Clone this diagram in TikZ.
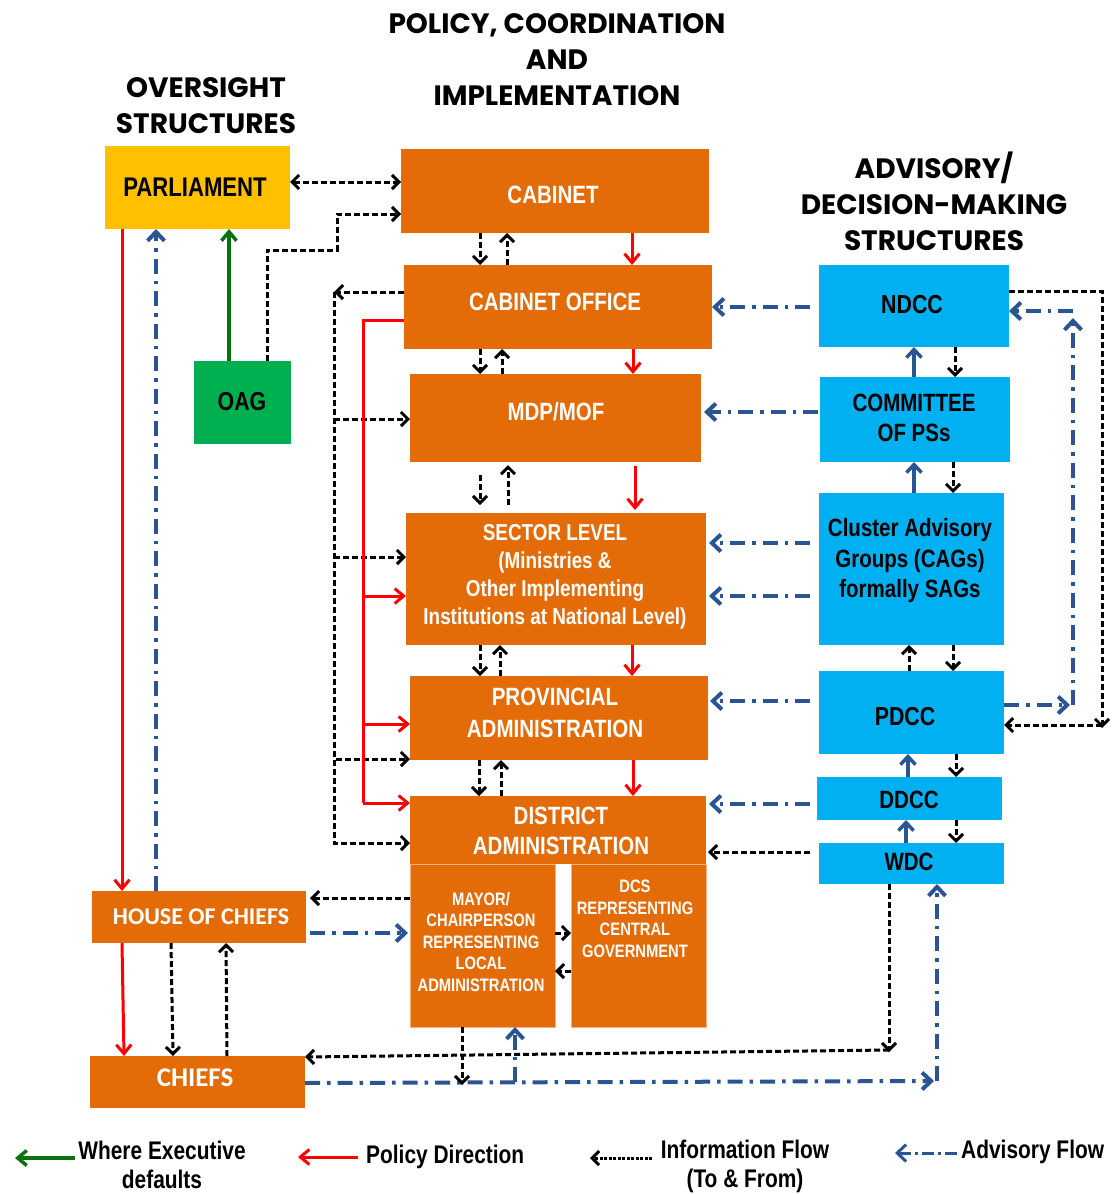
\documentclass[tikz,border=0pt]{standalone}
\usepackage{fontspec}
\newfontfamily\nar{Liberation Sans}[FakeStretch=0.82]
\newfontfamily\calib{Carlito}
\newfontfamily\hdr{Poppins}
\usetikzlibrary{arrows.meta}
\definecolor{orng}{HTML}{E36C09}
\definecolor{skyb}{HTML}{00B0F0}
\definecolor{yel}{HTML}{FFC000}
\definecolor{grn}{HTML}{00B050}
\definecolor{advb}{HTML}{2B5592}
\definecolor{exg}{HTML}{0A7010}
\definecolor{peach}{HTML}{F4B183}
\newcommand\fsz[2]{\fontsize{#1}{#2}\selectfont}
\begin{document}
\begin{tikzpicture}[x=1pt,y=-1pt,
  box/.style={inner sep=0pt,outer sep=0pt,draw=none},
  obox/.style={box,fill=orng},
  bbox/.style={box,fill=skyb},
  wt/.style={text=white,align=center,inner sep=0pt},
  kt/.style={text=black,align=center,inner sep=0pt},
  info/.style={black,line width=3pt,dash pattern=on 6pt off 3pt,>={Straight Barb[length=7pt,width=14pt]}},
  pol/.style={red,line width=3pt,>={Straight Barb[length=9pt,width=15pt]}},
  adv/.style={advb,line width=4pt,dash pattern=on 15pt off 7pt on 3.5pt off 7pt,>={Straight Barb[length=9pt,width=17pt]}},
  advs/.style={advb,line width=3.5pt,>={Straight Barb[length=8pt,width=15pt]}},
  exe/.style={exg,line width=3.5pt,>={Straight Barb[length=9pt,width=15pt]}},
  hd/.style={align=center,inner sep=0pt,font=\hdr\bfseries\fsz{28}{36}},
  lg/.style={align=center,inner sep=0pt,font=\nar\bfseries\fsz{25.5}{29}},
]
\fill[white] (0,0) rectangle (1115,1194);
\useasboundingbox (0,0) rectangle (1115,1194);

% headers
\node[hd] (h1) at (557,60) {POLICY, COORDINATION\\AND\\IMPLEMENTATION};
\node[hd] (h2) at (206,106) {OVERSIGHT\\STRUCTURES};
\node[hd] (h3) at (934,201) {ADVISORY/\\DECISION-MAKING\\STRUCTURES};

% boxes
\node[box,fill=yel,minimum width=185pt,minimum height=83pt] (parl) at (197.5,187.5) {};
\node[box,fill=grn,minimum width=97pt,minimum height=83pt] (oag) at (242.5,402.5) {};
\node[obox,minimum width=308pt,minimum height=84pt] (cab) at (555,191) {};
\node[obox,minimum width=308pt,minimum height=84pt] (co) at (558,307) {};
\node[obox,minimum width=291pt,minimum height=88pt] (mdp) at (555.5,418) {};
\node[obox,minimum width=300pt,minimum height=132pt] (sec) at (556,579) {};
\node[obox,minimum width=298pt,minimum height=84pt] (prov) at (559,718) {};
\node[obox,minimum width=296pt,minimum height=68pt] (dist) at (558,830) {};
\node[obox,draw=peach,line width=1pt,minimum width=145pt,minimum height=163pt] (mayor) at (482.5,945.5) {};
\node[obox,draw=peach,line width=1pt,minimum width=135pt,minimum height=163pt] (dcs) at (638.5,945.5) {};
\node[obox,minimum width=214pt,minimum height=52pt] (hoc) at (199,917) {};
\node[obox,minimum width=215pt,minimum height=52pt] (chiefs) at (197.5,1082) {};
\node[bbox,minimum width=190pt,minimum height=82pt] (ndcc) at (914,306) {};
\node[bbox,minimum width=190pt,minimum height=85pt] (cops) at (915,419.5) {};
\node[bbox,minimum width=185pt,minimum height=152pt] (cags) at (911.5,569) {};
\node[bbox,minimum width=185pt,minimum height=83pt] (pdcc) at (911.5,712.5) {};
\node[bbox,minimum width=185pt,minimum height=43pt] (ddcc) at (909.5,798.5) {};
\node[bbox,minimum width=185pt,minimum height=41pt] (wdc) at (911.5,863.5) {};

% box texts
\node[kt,font=\nar\bfseries\fsz{27}{32}] (tparl) at (195,187) {PARLIAMENT};
\node[kt,font=\nar\bfseries\fsz{26}{31}] (toag) at (242,402) {OAG};
\node[wt,font=\nar\bfseries\fsz{25}{31}] (tcab) at (553,195) {CABINET};
\node[wt,font=\nar\bfseries\fsz{25}{31}] (tco) at (555,302) {CABINET OFFICE};
\node[wt,font=\nar\bfseries\fsz{25}{31}] (tmdp) at (556,412) {MDP/MOF};
\node[wt,font=\nar\bfseries\fsz{23}{28}] (tsec) at (555,577) {SECTOR LEVEL\\(Ministries \&\\Other Implementing\\Institutions at National Level)};
\node[wt,font=\nar\bfseries\fsz{25}{32}] (tprov) at (555,713) {PROVINCIAL\\ADMINISTRATION};
\node[wt,font=\nar\bfseries\fsz{25}{30}] (tdist) at (561,831) {DISTRICT\\ADMINISTRATION};
\node[wt,font=\nar\bfseries\fsz{18}{21.5}] (tmayor) at (481,942) {MAYOR/\\CHAIRPERSON\\REPRESENTING\\LOCAL\\ADMINISTRATION};
\node[wt,font=\nar\bfseries\fsz{18}{21.5}] (tdcs) at (635,919) {DCS\\REPRESENTING\\CENTRAL\\GOVERNMENT};
\node[wt,font=\calib\bfseries\fsz{24}{28}] (thoc) at (201,917) {HOUSE OF CHIEFS};
\node[wt,font=\calib\bfseries\fsz{27}{30}] (tchiefs) at (195,1078) {CHIEFS};
\node[kt,font=\nar\bfseries\fsz{26}{31}] (tndcc) at (912,305) {NDCC};
\node[kt,font=\nar\bfseries\fsz{25}{30}] (tcops) at (914,418) {COMMITTEE\\OF PSs};
\node[kt,font=\nar\bfseries\fsz{25}{30.5}] (tcags) at (910,561) {Cluster Advisory\\Groups (CAGs)\\formally SAGs};
\node[kt,font=\nar\bfseries\fsz{26}{31}] (tpdcc) at (905,717) {PDCC};
\node[kt,font=\nar\bfseries\fsz{25}{31}] (tddcc) at (909,800) {DDCC};
\node[kt,font=\nar\bfseries\fsz{25}{31}] (twdc) at (909,862) {WDC};

% ---- oversight connectors
\draw[info,<->] (parl.east |- 0,182) -- (cab.west |- 0,182);
\draw[info,->] (oag.north -| 267,0) |- (337,250) |- (cab.west |- 0,214);
\draw[exe,->] (oag.north -| 229,0) -- (parl.south -| 229,0);
\draw[pol,->] (parl.south -| 122,0) -- (hoc.north -| 122,0);
\draw[adv,->] (hoc.north -| 156,0) -- (parl.south -| 156,0);

% ---- central column verticals
\draw[info,->] (cab.south -| 480,0) -- (co.north -| 480,0);
\draw[info,->] (co.north -| 507,0) -- (cab.south -| 507,0);
\draw[pol,->] (cab.south -| 632,0) -- (co.north -| 632,0);
\draw[info,->] (co.south -| 480,0) -- (mdp.north -| 480,0);
\draw[info,->] (mdp.north -| 502,0) -- (co.south -| 502,0);
\draw[pol,->] (co.south -| 633,0) -- (mdp.north -| 633,0);
\draw[info,->,shorten <=13pt,shorten >=8pt] (mdp.south -| 480,0) -- (sec.north -| 480,0);
\draw[info,->,shorten <=8pt,shorten >=3pt] (sec.north -| 508,0) -- (mdp.south -| 508,0);
\draw[pol,->,shorten <=4pt,shorten >=3pt] (mdp.south -| 635,0) -- (sec.north -| 635,0);
\draw[info,->] (sec.south -| 480,0) -- (prov.north -| 480,0);
\draw[info,->] (prov.north -| 500,0) -- (sec.south -| 500,0);
\draw[pol,->] (sec.south -| 632,0) -- (prov.north -| 632,0);
\draw[info,->] (prov.south -| 479,0) -- (dist.north -| 479,0);
\draw[info,->] (dist.north -| 501,0) -- (prov.south -| 501,0);
\draw[pol,->] (prov.south -| 633,0) -- (dist.north -| 633,0);

% ---- left info bus from cabinet office
\coordinate (ib) at (334,292);
\draw[info,->] (co.west |- ib) -- (ib);
\draw[info,->] (ib) |- (dist.west |- 0,843);
\draw[info,->] (334,419) -- (mdp.west |- 0,419);
\draw[info,->] (334,557) -- (sec.west |- 0,557);
\draw[info,->] (336,759) -- (prov.west |- 0,759);

% ---- red policy bus
\coordinate (rb) at (363,320);
\draw[pol] (co.west |- rb) -- (rb) -- (363,803);
\draw[pol,->] (363,596) -- (sec.west |- 0,596);
\draw[pol,->] (363,724) -- (prov.west |- 0,724);
\draw[pol,->] (363,803) -- (dist.west |- 0,803);

% ---- advisory arrows to central column
\draw[adv,->,shorten <=9pt] (ndcc.west |- 0,307) -- (co.east |- 0,307);
\draw[adv,->,shorten <=2pt,shorten >=3pt] (cops.west |- 0,412) -- (mdp.east |- 0,412);
\draw[adv,->,shorten <=9pt,shorten >=3pt] (cags.west |- 0,543) -- (sec.east |- 0,543);
\draw[adv,->,shorten <=9pt,shorten >=3pt] (cags.west |- 0,596) -- (sec.east |- 0,596);
\draw[adv,->,shorten <=9pt,shorten >=2pt] (pdcc.west |- 0,701) -- (prov.east |- 0,701);
\draw[adv,->,shorten <=7pt,shorten >=3pt] (ddcc.west |- 0,804) -- (dist.east |- 0,804);
\draw[info,->,shorten <=9pt,shorten >=2pt] (wdc.west |- 0,852) -- (dist.east |- 0,852);

% ---- right column verticals
\draw[advs,->] (cops.north -| 914,0) -- (ndcc.south -| 914,0);
\draw[info,->] (ndcc.south -| 955,0) -- (cops.north -| 955,0);
\draw[advs,->] (cags.north -| 914,0) -- (cops.south -| 914,0);
\draw[info,->] (cops.south -| 953,0) -- (cags.north -| 953,0);
\draw[info,->] (pdcc.north -| 909,0) -- (cags.south -| 909,0);
\draw[info,->] (cags.south -| 953,0) -- (pdcc.north -| 953,0);
\draw[advs,->] (ddcc.north -| 908,0) -- (pdcc.south -| 908,0);
\draw[info,->] (pdcc.south -| 956,0) -- (ddcc.north -| 956,0);
\draw[advs,->] (wdc.north -| 906,0) -- (ddcc.south -| 906,0);
\draw[info,->] (ddcc.south -| 956,0) -- (wdc.north -| 956,0);

% ---- far right loops
\coordinate (rc) at (1102,725);
\draw[info,->] (ndcc.east |- 0,291) -| ([yshift=-3pt]rc);
\draw[info,->] (rc) -- (pdcc.east |- rc);
\coordinate (ac) at (1073,705);
\draw[adv,->] (pdcc.east |- ac) -- ([xshift=-3pt]ac);
\draw[adv,->] (ac) -- (1073,318);
\draw[adv,->] (1073,311) -- (ndcc.east |- 0,311);

% ---- bottom connections
\coordinate (wc) at (889,1050);
\draw[info,->] (wdc.south -| wc) -- ([yshift=-2pt]wc);
\draw[info,->] (wc) -- (chiefs.east |- 0,1057);
\coordinate (cc) at (937,1081);
\draw[adv,->] (chiefs.east |- 0,1083) -- ([xshift=-3pt]cc);
\draw[adv,->] (cc) -- (wdc.south -| cc);
\draw[info,->] (mayor.south -| 462,0) -- (462,1085);
\draw[adv,->] (515,1082) -- (mayor.south -| 515,0);
\draw[info,->] (mayor.east |- 0,933) -- (dcs.west |- 0,933);
\draw[info,->] (dcs.west |- 0,971) -- (mayor.east |- 0,971);
\draw[info,->,shorten >=4pt] (mayor.west |- 0,898) -- (hoc.east |- 0,898);
\draw[adv,->,shorten <=4pt,shorten >=2pt] (hoc.east |- 0,933) -- (mayor.west |- 0,933);
\draw[pol,->] (hoc.south -| 122,0) -- (chiefs.north -| 124,0);
\draw[info,->] (hoc.south -| 171,0) -- (chiefs.north -| 173,0);
\draw[info,->] (chiefs.north -| 227,0) -- (hoc.south -| 226,0);

% ---- legend
\draw[exe,->] (75,1158) -- (15,1158);
\node[lg] (l1) at (162,1165) {Where Executive\\defaults};
\draw[pol,->] (358,1157) -- (298,1157);
\node[lg,anchor=west] (l2) at (366,1157) {Policy Direction};
\draw[info,->,dash pattern=on 3pt off 1.5pt] (652,1158) -- (590,1158);
\node[lg] (l3) at (745,1166) {Information Flow\\(To \& From)};
\draw[adv,->,line width=3pt,dash pattern=on 12pt off 4pt on 3pt off 4pt] (957,1153) -- (895,1153);
\node[lg,anchor=west] (l4) at (961,1152) {Advisory Flow};
\end{tikzpicture}
\end{document}
